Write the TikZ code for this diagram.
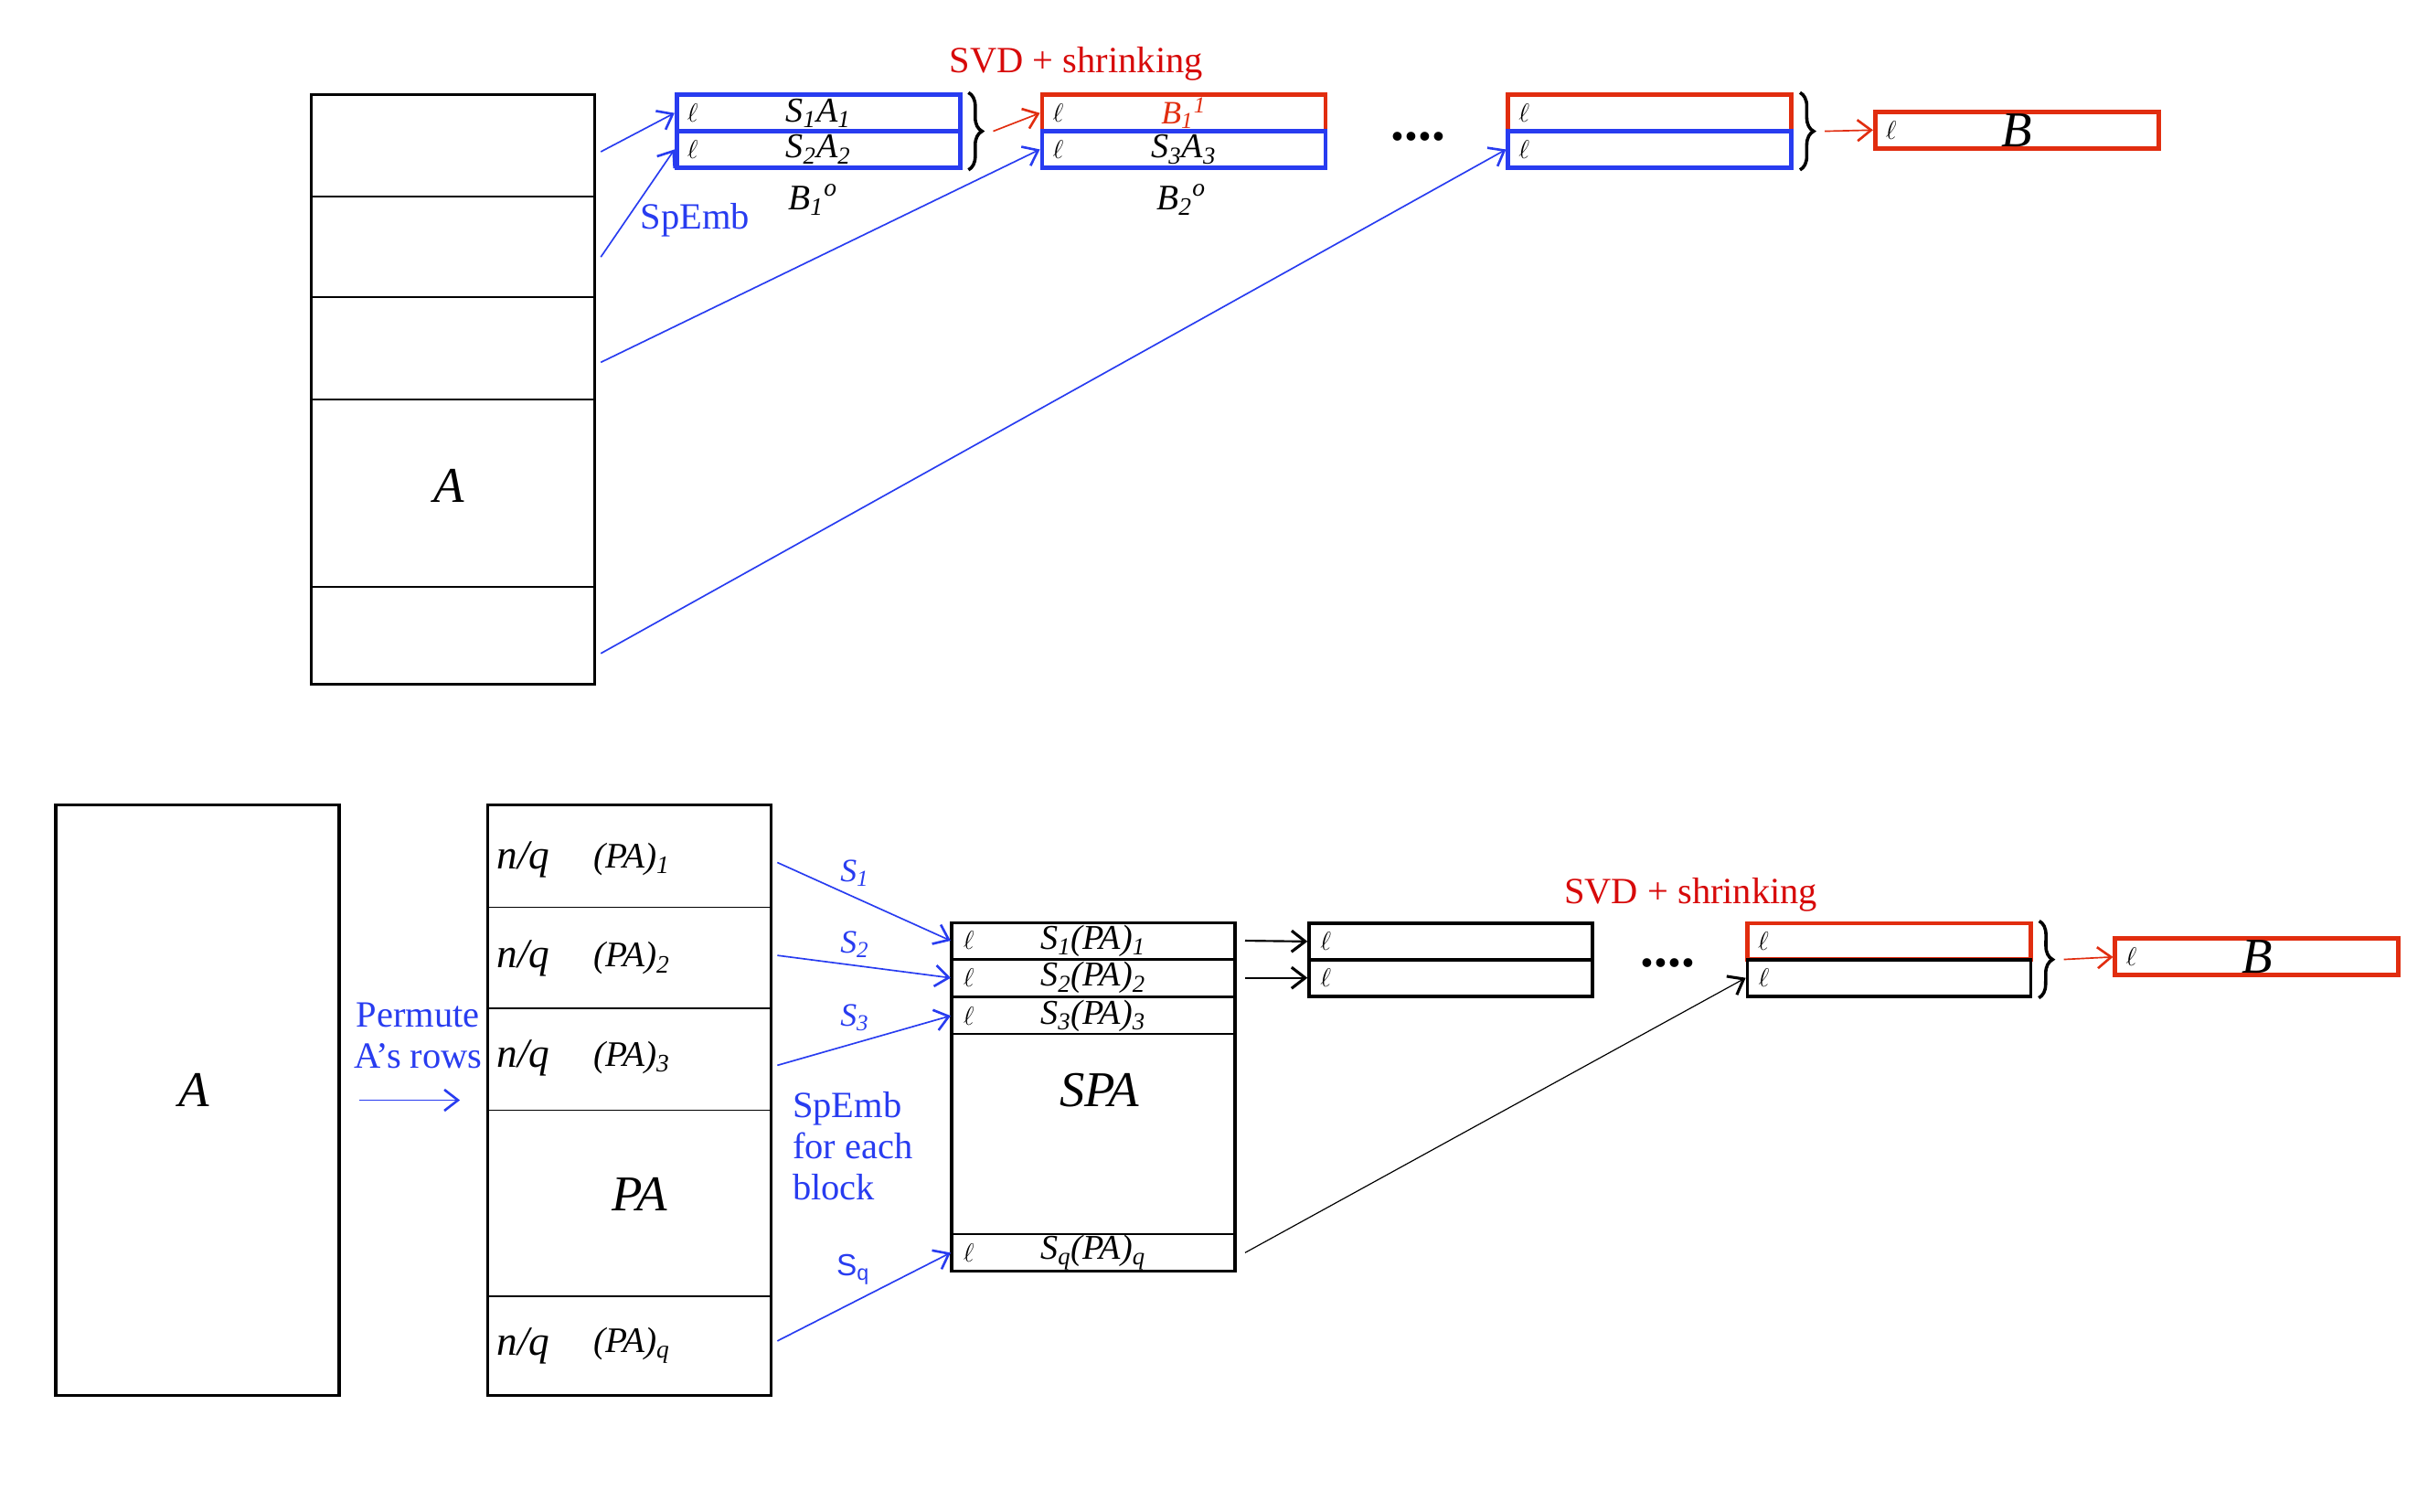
\documentclass[tikz,border=0pt]{standalone}
\usepackage{fontspec}
\setmainfont{Liberation Serif}
\setsansfont{Liberation Sans}
\usepackage{tikz}
\usetikzlibrary{
  arrows.meta,
  positioning,
  calc,
  decorations.pathreplacing
}
\definecolor{embblue}{RGB}{40,60,240}
\definecolor{svdred}{RGB}{225,45,15}
\definecolor{svdtext}{RGB}{215,10,10}
\newcommand{\setfs}[2]{\fontsize{#1}{#2}\selectfont}
\newcommand{\lo}[1]{\textsubscript{#1}}
\newcommand{\hi}[1]{\textsuperscript{#1}}

\begin{document}
\begin{tikzpicture}[
    x=0.25mm, y=-0.25mm,
    mat/.style={
      rectangle, draw, line width=1.4pt, inner sep=0pt,
      minimum width=45.75mm, minimum height=95.25mm
    },
    divider/.style={line width=0.7pt},
    strip/.style={
      rectangle, draw, line width=0.8pt, inner sep=0pt,
      minimum width=45.75mm, minimum height=5.9mm, font=\itshape\setfs{16}{16}
    },
    thickstrip/.style={strip, line width=1.6pt},
    bluestrip/.style={strip, draw=embblue, line width=2pt},
    redstrip/.style={strip, draw=svdred, line width=2pt},
    ell/.style={label={[anchor=west, xshift=2mm, inner sep=0pt,
      text=black, font=\setfs{12}{12}]west:$\ell$}},
    biglbl/.style={font=\itshape\setfs{23}{23}},
    blk/.style={font=\itshape\setfs{16.5}{16.5}},
    bluetxt/.style={text=embblue, font=\setfs{17}{18.8}},
    svdlbl/.style={text=svdtext, font=\setfs{17}{17}},
    bigdots/.style={font=\bfseries\setfs{25}{25}},
    emb/.style={-{Straight Barb[length=2.2mm, width=3.4mm, line width=1.1pt]},
      embblue, line width=0.7pt},
    svd/.style={-{Straight Barb[length=2.2mm, width=3.4mm, line width=1.1pt]},
      svdred, line width=0.7pt},
    fwd/.style={-{Straight Barb[length=2.2mm, width=3.4mm, line width=1.3pt]},
      line width=0.9pt},
    grp/.style={decorate, decoration={brace, amplitude=2.2mm}, line width=1.5pt}
  ]

  \useasboundingbox (0,0) rectangle (1568,976);

  %% ---------- Top: streaming over the blocks of A ----------
  \node[mat] (topA) at (292.5,251.5) {};
  \foreach \yy in {127,192,258,379}
    \draw[divider] (201,\yy) -- (384,\yy);
  \node[biglbl] (topAlbl) at (290,314) {A};

  \coordinate (ta1) at (388,98);
  \coordinate (ta2) at (388,166);
  \coordinate (ta3) at (388,234);
  \coordinate (ta4) at (388,422);

  %% sketch buffers
  \node[bluestrip, ell] (b1top) at (528.5,73)   {S\lo{1}A\lo{1}};
  \node[bluestrip, ell] (b1bot) at (528.5,96.5) {S\lo{2}A\lo{2}};
  \node[redstrip, ell, font=\itshape\setfs{15}{15}] (b2top) at (764.5,73)
    {\color{svdred}B\lo{1}\hi{1}};
  \node[bluestrip, ell] (b2bot) at (764.5,96.5) {S\lo{3}A\lo{3}};
  \node[redstrip, ell]  (b3top) at (1065.5,73)  {};
  \node[bluestrip, ell] (b3bot) at (1065.5,96.5) {};
  \node[redstrip, ell, biglbl] (topB) at (1302.5,84) {B};

  \draw[grp] ([xshift=1mm]b1top.north east) -- ([xshift=1mm]b1bot.south east);
  \draw[grp] ([xshift=1mm]b3top.north east) -- ([xshift=1mm]b3bot.south east);
  \coordinate (g1) at ($(b1top.north east)!0.5!(b1bot.south east)+(20,0)$);
  \coordinate (g2) at ($(b3top.north east)!0.5!(b3bot.south east)+(20,0)$);

  \draw[emb] (ta1) -- (b1top.west);
  \draw[emb] (ta2) -- (b1bot.west);
  \draw[emb] (ta3) -- (b2bot.west);
  \draw[emb] (ta4) -- (b3bot.west);
  \draw[svd] (g1) -- (b2top.west);
  \draw[svd] (g2) -- (topB.west);

  \node[svdlbl] (svd1) at (695,41) {SVD + shrinking};
  \node[blk] (b1lbl) at (525,129) {B\lo{1}\hi{o}};
  \node[blk] (b2lbl) at (763,129) {B\lo{2}\hi{o}};
  \node[bluetxt] (spemb1) at (449,142) {SpEmb};
  \node[bigdots] (dots1) at (916,88) {....};

  %% ---------- Bottom: permute rows, then embed each block ----------
  \node[mat] (botA) at (127.5,710.5) {};
  \node[biglbl] (botAlbl) at (125,704) {A};

  \node[mat] (PA) at (406.5,710.5) {};
  \foreach \yy in {586,651,717,837}
    \draw[divider] (315,\yy) -- (498,\yy);
  \foreach \yy/\k in {555/1,619/2,683/3,869/q} {
    \node[blk, font=\itshape\setfs{19}{19}] (nq\k) at (338,\yy) {n/q};
    \node[blk] (pa\k) at (408,\yy) {(PA)\lo{\k}};
  }
  \node[biglbl] (PAlbl) at (413,771) {PA};

  \node[bluetxt, align=center] (perm) at (270,669) {Permute\\A’s rows};
  \draw[emb] ([xshift=3mm]botA.east) -- ([xshift=-4.25mm]PA.west);

  %% embedded blocks SPA
  \node[strip, ell] (spa1) at (706,607.5) {S\lo{1}(PA)\lo{1}};
  \node[strip, ell] (spa2) at (706,631.5) {S\lo{2}(PA)\lo{2}};
  \node[strip, ell] (spa3) at (706,656)   {S\lo{3}(PA)\lo{3}};
  \node[strip, ell] (spaq) at (706,809)   {S\lo{q}(PA)\lo{q}};
  \node[rectangle, draw, line width=1.4pt, inner sep=0pt,
        minimum width=45.75mm, minimum height=56.25mm] (SPA) at (706,708.5) {};
  \node[biglbl] (SPAlbl) at (710,704) {SPA};

  \coordinate (pb1) at (502,557);
  \coordinate (pb2) at (502,617);
  \coordinate (pb3) at (502,688);
  \coordinate (pbq) at (502,866);
  \draw[emb] (pb1) -- (spa1.west);
  \draw[emb] (pb2) -- (spa2.west);
  \draw[emb] (pb3) -- (spa3.west);
  \draw[emb] (pbq) -- (spaq.west);
  \node[bluetxt, font=\itshape\setfs{15}{15}] (s1) at (552,564) {S\lo{1}};
  \node[bluetxt, font=\itshape\setfs{15}{15}] (s2) at (552,610) {S\lo{2}};
  \node[bluetxt, font=\itshape\setfs{15}{15}] (s3) at (552,657) {S\lo{3}};
  \node[bluetxt, font=\sffamily\setfs{14}{14}] (sq) at (551,820) {S\lo{q}};
  \node[bluetxt, align=left, anchor=west] (spemb2) at (507,740)
    {SpEmb\\for each\\block};

  %% buffers
  \node[thickstrip, ell] (c1top) at (937,608)    {};
  \node[thickstrip, ell] (c1bot) at (937,631.5)  {};
  \node[redstrip, ell]   (c2top) at (1220,608)   {};
  \node[thickstrip, ell] (c2bot) at (1220,631.5) {};
  \node[redstrip, ell, biglbl] (botB) at (1457.5,618) {B};

  \draw[fwd] ([xshift=1.5mm]spa1.east) -- (c1top.west);
  \draw[fwd] ([xshift=1.5mm]spa2.east) -- (c1bot.west);
  \draw[fwd, line width=0.5pt] ([xshift=1.5mm]spaq.east) -- (c2bot.west);

  \draw[grp] ([xshift=1mm]c2top.north east) -- ([xshift=1mm]c2bot.south east);
  \coordinate (g3) at ($(c2top.north east)!0.5!(c2bot.south east)+(20,0)$);
  \draw[svd] (g3) -- (botB.west);

  \node[svdlbl] (svd2) at (1092,578) {SVD + shrinking};
  \node[bigdots] (dots2) at (1077,622) {....};

\end{tikzpicture}
\end{document}
